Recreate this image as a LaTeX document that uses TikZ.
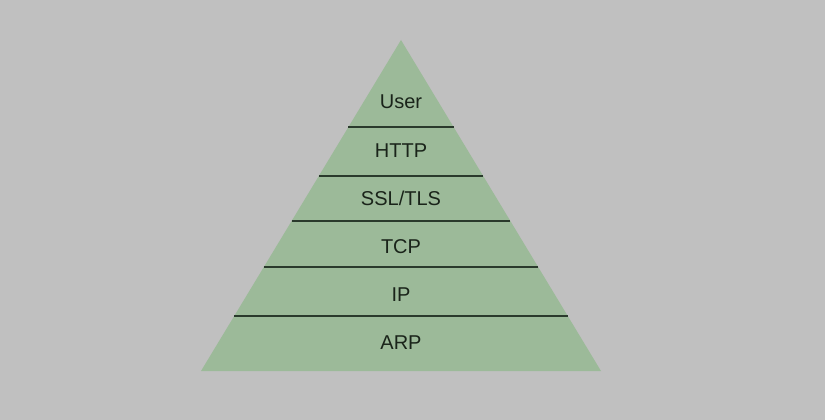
\documentclass[tikz,border=0pt]{standalone}
\usepackage{fontspec}
\setmainfont{Liberation Sans}
\definecolor{bg}{HTML}{C0C0C0}
\definecolor{pyr}{HTML}{9CBA99}
\definecolor{sep}{HTML}{2A3A2C}
\definecolor{txt}{HTML}{1A241A}
\begin{document}
\begin{tikzpicture}[x=1pt,y=-1pt,
  layerlabel/.style={font=\fontsize{20}{23}\selectfont,text=txt,inner sep=0pt,anchor=center},
  sepline/.style={draw=sep,line width=1.3pt}]
\fill[bg] (0,0) rectangle (825,420);
\useasboundingbox (0,0) rectangle (825,420);
\coordinate (apex) at (401,40);
\coordinate (bl) at (201,371);
\coordinate (br) at (601,371);
\fill[pyr] (apex) -- (bl) -- (br) -- cycle;
% separator lines: half width = (y-40)/331*200
\foreach \y [count=\i] in {127,176,221,267,316}{
  \pgfmathsetmacro{\hw}{(\y-40)/331*200}
  \coordinate (l\i) at ({401-\hw},\y);
  \coordinate (r\i) at ({401+\hw},\y);
  \draw[sepline] (l\i) -- (r\i);
}
\node[layerlabel] (user) at (401,101.5) {User};
\node[layerlabel] (http) at (401,150.5) {HTTP};
\node[layerlabel] (ssl) at (401,198) {SSL/TLS};
\node[layerlabel] (tcp) at (401,246.5) {TCP};
\node[layerlabel] (ip) at (401,295) {IP};
\node[layerlabel] (arp) at (401,343) {ARP};
\end{tikzpicture}
\end{document}
